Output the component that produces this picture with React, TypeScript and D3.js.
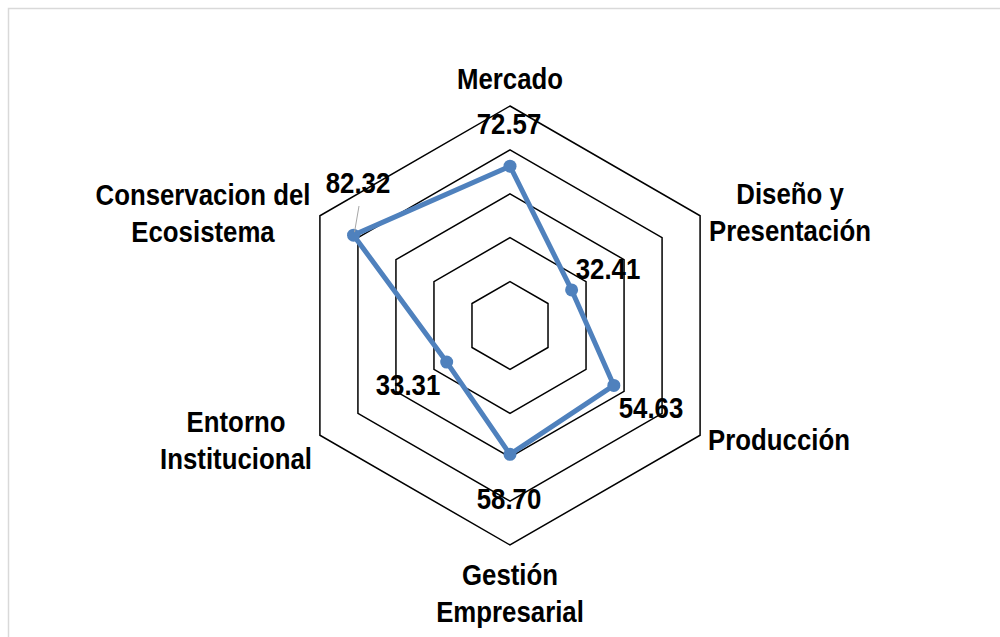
import React from "react";
import * as d3 from "d3";

const categories: string[][] = [
  ["Mercado"],
  ["Diseño y", "Presentación"],
  ["Producción"],
  ["Gestión", "Empresarial"],
  ["Entorno", "Institucional"],
  ["Conservacion del", "Ecosistema"],
];
const values: number[] = [72.57, 32.41, 54.63, 58.7, 33.31, 82.32];
const gridLevels: number[] = [20, 40, 60, 80, 100];

// label anchor points (center x, first baseline y) and value label positions
const catLabelPos: [number, number][] = [
  [510, 89],
  [790, 204],
  [779, 450],
  [510, 585],
  [236, 432],
  [203, 205],
];
const valLabelPos: [number, number][] = [
  [509, 134],
  [608, 279],
  [651, 418],
  [509, 509],
  [408, 395],
  [358, 193],
];

const W = 1000;
const H = 637;
const cx = 510;
const cy = 325.5;
const R = 219.5;
const FONT = "'Liberation Sans', Arial, sans-serif";
const SX = 0.86;
const LINE_H = 37;

export default function App() {
  const n = categories.length;
  const r = d3.scaleLinear().domain([0, 100]).range([0, R]);
  const angle = (i: number) => (i * 2 * Math.PI) / n;
  const pt = (i: number, v: number): [number, number] => [
    cx + r(v) * Math.sin(angle(i)),
    cy - r(v) * Math.cos(angle(i)),
  ];
  const line = d3.line<[number, number]>().curve(d3.curveLinearClosed);
  const dataPts = values.map((v, i) => pt(i, v));
  const leaderStart: [number, number] = [359, 206];
  return (
    <svg
      width={W}
      height={H}
      style={{ position: "absolute", left: 0, top: 0, background: "#fff" }}
    >
      <rect x={8.5} y={8.5} width={1000} height={700} fill="#fff" stroke="#d9d9d9" strokeWidth={1.5} />
      {gridLevels.map((g) => (
        <path
          key={g}
          d={line(categories.map((_, i) => pt(i, g))) || ""}
          fill="none"
          stroke="#000"
          strokeWidth={1.5}
        />
      ))}
      <path d={line(dataPts) || ""} fill="none" stroke="#4f81bd" strokeWidth={5} strokeLinejoin="round" />
      {dataPts.map((p, i) => (
        <circle key={i} cx={p[0]} cy={p[1]} r={6.5} fill="#4f81bd" />
      ))}
      <line
        x1={leaderStart[0]}
        y1={leaderStart[1]}
        x2={dataPts[5][0] + 1}
        y2={dataPts[5][1] - 3}
        stroke="#a6a6a6"
        strokeWidth={1}
      />
      {categories.map((lines, i) => (
        <text
          key={i}
          transform={`translate(${catLabelPos[i][0]},${catLabelPos[i][1]}) scale(${SX},1)`}
          textAnchor="middle"
          fontFamily={FONT}
          fontWeight="bold"
          fontSize={30}
          fill="#000"
        >
          {lines.map((l, j) => (
            <tspan key={j} x={0} y={j * LINE_H}>
              {l}
            </tspan>
          ))}
        </text>
      ))}
      {values.map((v, i) => (
        <text
          key={i}
          transform={`translate(${valLabelPos[i][0]},${valLabelPos[i][1]}) scale(${SX},1)`}
          textAnchor="middle"
          fontFamily={FONT}
          fontWeight="bold"
          fontSize={30}
          fill="#000"
        >
          {v.toFixed(2)}
        </text>
      ))}
    </svg>
  );
}
